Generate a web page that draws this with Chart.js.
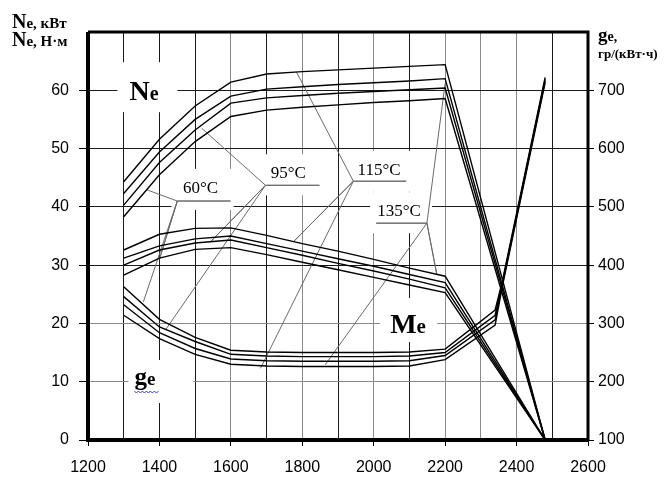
<!DOCTYPE html>
<html>
<head>
<meta charset="utf-8">
<script src="https://cdn.jsdelivr.net/npm/chart.js@4.4.1/dist/chart.umd.min.js"></script>
<style>
  html, body { margin: 0; padding: 0; background: #fff; }
</style>
</head>
<body>
<canvas id="engineChart" width="666" height="480"></canvas>
<script>
// crankshaft speed, rpm
const rpm = [1300, 1400, 1500, 1600, 1700, 1800, 1900, 2000, 2100, 2200, 2480];
const geRpm = [1300, 1400, 1500, 1600, 1700, 1800, 1900, 2000, 2100, 2200, 2340, 2360, 2480];

// power Ne, kW (top curve to bottom curve)
const ne1 = [44.3, 51.6, 57.3, 61.4, 62.8, 63.2, 63.5, 63.8, 64.1, 64.4, 0];
const ne2 = [42.3, 49.4, 55.0, 59.0, 60.2, 60.6, 61.0, 61.3, 61.6, 62.0, 0];
const ne3 = [40.3, 47.6, 53.2, 57.8, 58.7, 59.1, 59.5, 59.8, 60.1, 60.4, 0];
const ne4 = [38.3, 45.5, 51.2, 55.5, 56.6, 57.1, 57.5, 57.9, 58.2, 58.6, 0];

// torque Me (same left axis)
const me1 = [32.6, 35.3, 36.3, 36.4, 35.1, 33.7, 32.4, 31.0, 29.5, 28.1, 0];
const me2 = [31.2, 33.3, 34.5, 35.0, 33.7, 32.4, 31.1, 29.8, 28.4, 27.0, 0];
const me3 = [30.0, 32.6, 33.8, 34.3, 33.0, 31.7, 30.3, 29.0, 27.6, 26.1, 0];
const me4 = [28.3, 31.2, 32.7, 33.0, 31.8, 30.5, 29.2, 27.9, 26.6, 25.3, 0];

// specific fuel consumption ge, g/(kW*h) (right axis)
const ge1 = [363, 307, 276, 254, 251, 250, 250, 250, 251, 256, 323, 372, 722];
const ge2 = [346, 294, 269, 247, 244, 243, 243, 243, 244, 250, 314, 369, 719];
const ge3 = [332, 284, 257, 239, 236, 235, 235, 235, 236, 245, 306, 366, 716];
const ge4 = [314, 274, 247, 230, 227, 226, 226, 226, 227, 238, 297, 363, 713];

// leader lines for coolant temperature labels [rpm, left axis value]
const lead60 = [[1366, 42.9], [1450, 41.0], [1599, 41.0], [1450, 41.0], [1400, 31.0], [1450, 41.0], [1355, 23.7]];
const lead95 = [[1518, 53.5], [1697, 43.7], [1848, 43.7], [1697, 43.7], [1543, 34.0], [1697, 43.7], [1417, 18.9]];
const lead115 = [[1784, 63.1], [1943, 44.4], [2091, 44.4], [1943, 44.4], [1775, 34.0], [1943, 44.4], [1683, 12.3]];
const lead135 = [[2200, 61.2], [2149, 37.2], [2007, 37.2], [2149, 37.2], [2177, 28.3], [2149, 37.2], [1864, 12.9]];

const tempLabels = [
  { text: '60°C', rpm: 1515, val: 42.4 },
  { text: '95°C', rpm: 1761, val: 44.9 },
  { text: '115°C', rpm: 2015, val: 45.5 },
  { text: '135°C', rpm: 2071, val: 38.4 }
];

const bigLabels = [
  { main: 'N', sub: 'e', rpm: 1316, val: 58.3, size: 28, subSize: 20, box: [-12, -38, 48, 12] },
  { main: 'M', sub: 'e', rpm: 2046, val: 18.35, size: 28, subSize: 21, box: [-10, -35, 47, 9] },
  { main: 'g', sub: 'e', rpm: 1330, val: 9.43, size: 25, subSize: 19, box: [-6, -25, 59, 18] }
];

const darkGridRpm = [1300, 1400, 1500, 1700, 1900, 2100, 2500];
const SERIF = '"Liberation Serif", "Times New Roman", serif';
const SANS = '"Liberation Sans", Arial, sans-serif';

function curve(xs, ys, axis) {
  return {
    data: xs.map((x, i) => ({ x: x, y: ys[i] })),
    yAxisID: axis,
    borderColor: '#000',
    borderWidth: 1.4,
    pointRadius: 0,
    tension: 0,
    fill: false
  };
}

function leader(pts) {
  return {
    data: pts.map(p => ({ x: p[0], y: p[1] })),
    yAxisID: 'y',
    borderColor: '#6a6a6a',
    borderWidth: 1,
    pointRadius: 0,
    tension: 0,
    fill: false
  };
}

function mixedText(ctx, x, y, parts) {
  parts.forEach(p => {
    ctx.font = 'bold ' + p[1] + 'px ' + SERIF;
    ctx.fillText(p[0], x, y);
    x += ctx.measureText(p[0]).width;
  });
}

const labelsPlugin = {
  id: 'labelsPlugin',
  beforeDatasetsDraw(chart) {
    const ctx = chart.ctx;
    const x = chart.scales.x, y = chart.scales.y;
    ctx.save();
    ctx.fillStyle = '#fff';
    // white patches under the labels cut the grid like in the original
    tempLabels.forEach(l => {
      const px = x.getPixelForValue(l.rpm), py = y.getPixelForValue(l.val);
      ctx.fillRect(px - 29, py - 24, 62, 41);
    });
    bigLabels.forEach(l => {
      const px = x.getPixelForValue(l.rpm), py = y.getPixelForValue(l.val);
      ctx.fillRect(px + l.box[0], py + l.box[1], l.box[2] - l.box[0], l.box[3] - l.box[1]);
    });
    ctx.fillStyle = '#000';
    ctx.textBaseline = 'alphabetic';
    ctx.textAlign = 'center';
    ctx.font = '17px ' + SERIF;
    tempLabels.forEach(l => {
      ctx.fillText(l.text, x.getPixelForValue(l.rpm), y.getPixelForValue(l.val));
    });
    ctx.textAlign = 'left';
    bigLabels.forEach(l => {
      mixedText(ctx, x.getPixelForValue(l.rpm), y.getPixelForValue(l.val), [[l.main, l.size], [l.sub, l.subSize]]);
    });
    // spell-check squiggle under ge
    const gx = x.getPixelForValue(bigLabels[2].rpm), gy = y.getPixelForValue(bigLabels[2].val) + 7;
    ctx.strokeStyle = '#2a3fd0';
    ctx.lineWidth = 1;
    ctx.beginPath();
    for (let i = 0; i <= 12; i++) {
      const sx = gx + i * 2, sy = gy + (i % 2 ? 1 : -1);
      if (i === 0) ctx.moveTo(sx, sy); else ctx.lineTo(sx, sy);
    }
    ctx.stroke();
    ctx.restore();
  },
  afterDraw(chart) {
    const ctx = chart.ctx;
    const a = chart.chartArea;
    ctx.save();
    ctx.strokeStyle = '#000';
    ctx.lineWidth = 4;
    ctx.beginPath();
    ctx.moveTo(a.left, a.top);
    ctx.lineTo(a.left, a.bottom);
    ctx.lineTo(a.right, a.bottom);
    ctx.stroke();
    ctx.lineWidth = 3;
    ctx.beginPath();
    ctx.moveTo(a.left, a.top);
    ctx.lineTo(a.right, a.top);
    ctx.lineTo(a.right, a.bottom);
    ctx.stroke();

    ctx.fillStyle = '#000';
    ctx.textAlign = 'left';
    ctx.textBaseline = 'alphabetic';
    mixedText(ctx, 12, 28, [['N', 20], ['e, кВт', 15]]);
    mixedText(ctx, 12, 46, [['N', 20], ['e, Н·м', 15]]);
    mixedText(ctx, 598, 41, [['g', 19], ['e,', 14]]);
    mixedText(ctx, 598, 58, [['гр/(кВт·ч)', 13]]);
    ctx.restore();
  }
};

const ctx = document.getElementById('engineChart').getContext('2d');

new Chart(ctx, {
  type: 'line',
  data: {
    datasets: [
      curve(rpm, ne1, 'y'), curve(rpm, ne2, 'y'), curve(rpm, ne3, 'y'), curve(rpm, ne4, 'y'),
      curve(rpm, me1, 'y'), curve(rpm, me2, 'y'), curve(rpm, me3, 'y'), curve(rpm, me4, 'y'),
      curve(geRpm, ge1, 'y2'), curve(geRpm, ge2, 'y2'), curve(geRpm, ge3, 'y2'), curve(geRpm, ge4, 'y2'),
      leader(lead60), leader(lead95), leader(lead115), leader(lead135)
    ]
  },
  options: {
    responsive: false,
    animation: false,
    devicePixelRatio: 1,
    layout: { padding: { top: 32, left: 0, right: 0, bottom: 0 } },
    plugins: {
      legend: { display: false },
      tooltip: { enabled: false }
    },
    scales: {
      x: {
        type: 'linear',
        min: 1200,
        max: 2600,
        afterFit(s) { s.height = 40; },
        border: { display: false },
        grid: {
          color: c => darkGridRpm.includes(c.tick.value) ? '#1a1a1a' : '#8a8a8a',
          tickLength: 6,
          tickColor: c => c.tick.value % 200 === 0 ? '#000' : 'rgba(0,0,0,0)'
        },
        ticks: {
          stepSize: 100,
          autoSkip: false,
          maxRotation: 0,
          padding: 12,
          color: '#000',
          font: { family: SANS, size: 16 },
          callback: v => v % 200 === 0 ? v : ''
        }
      },
      y: {
        position: 'left',
        min: 0,
        max: 70,
        afterFit(s) { s.width = 88; },
        border: { display: false },
        grid: {
          color: c => (c.tick.value === 10 || c.tick.value === 20) ? '#8a8a8a' : '#1a1a1a',
          tickLength: 9,
          tickColor: c => c.tick.value < 70 ? '#000' : 'rgba(0,0,0,0)'
        },
        ticks: {
          stepSize: 10,
          padding: 10,
          color: '#000',
          font: { family: SANS, size: 16 },
          callback: v => v < 70 ? v : ''
        }
      },
      y2: {
        position: 'right',
        min: 100,
        max: 800,
        afterFit(s) { s.width = 78; },
        border: { display: false },
        grid: {
          drawOnChartArea: false,
          tickLength: 6,
          tickColor: c => c.tick.value < 800 ? '#000' : 'rgba(0,0,0,0)'
        },
        ticks: {
          stepSize: 100,
          padding: 4,
          color: '#000',
          font: { family: SANS, size: 16 },
          callback: v => v < 800 ? v : ''
        }
      }
    }
  },
  plugins: [labelsPlugin]
});
</script>
</body>
</html>
